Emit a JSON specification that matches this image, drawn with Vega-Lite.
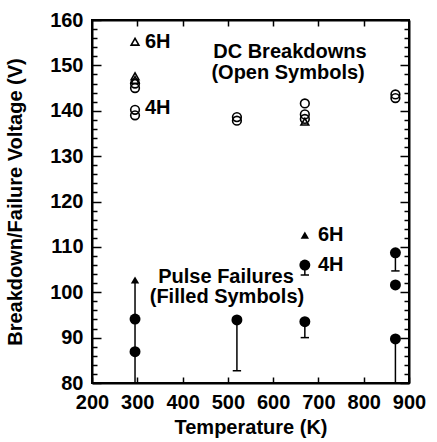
{
  "$schema": "https://vega.github.io/schema/vega-lite/v6.json",
  "width": 317,
  "height": 363,
  "autosize": {"type": "none"},
  "padding": {"left": 92, "top": 20, "right": 28, "bottom": 59},
  "background": "white",
  "config": {
    "view": {"stroke": "black", "strokeWidth": 2},
    "font": "Liberation Sans",
    "axis": {
      "domainColor": "black",
      "domainWidth": 2,
      "tickColor": "black",
      "tickWidth": 1.5,
      "grid": false,
      "labelFont": "Liberation Sans",
      "labelFontSize": 20,
      "labelFontWeight": "bold",
      "labelColor": "black",
      "titleFont": "Liberation Sans",
      "titleFontSize": 20,
      "titleFontWeight": "bold",
      "titleColor": "black",
      "labelFlush": false,
      "labelOverlap": false
    }
  },
  "datasets": {
    "points": [
      {"T": 295, "V": 155.2, "kind": "DC", "shape": "triangle"},
      {"T": 295, "V": 147.6, "kind": "DC", "shape": "triangle"},
      {"T": 295, "V": 146.8, "kind": "DC", "shape": "triangle"},
      {"T": 295, "V": 146.0, "kind": "DC", "shape": "circle"},
      {"T": 295, "V": 145.0, "kind": "DC", "shape": "circle"},
      {"T": 295, "V": 140.2, "kind": "DC", "shape": "circle"},
      {"T": 295, "V": 139.0, "kind": "DC", "shape": "circle"},
      {"T": 520, "V": 138.6, "kind": "DC", "shape": "circle"},
      {"T": 520, "V": 137.8, "kind": "DC", "shape": "circle"},
      {"T": 670, "V": 141.6, "kind": "DC", "shape": "circle"},
      {"T": 670, "V": 139.2, "kind": "DC", "shape": "circle"},
      {"T": 670, "V": 138.2, "kind": "DC", "shape": "circle"},
      {"T": 670, "V": 137.6, "kind": "DC", "shape": "triangle"},
      {"T": 870, "V": 143.6, "kind": "DC", "shape": "circle"},
      {"T": 870, "V": 142.8, "kind": "DC", "shape": "circle"},
      {"T": 295, "V": 102.7, "kind": "Pulse", "shape": "triangle"},
      {"T": 295, "V": 94.1, "kind": "Pulse", "shape": "circle"},
      {"T": 295, "V": 86.9, "kind": "Pulse", "shape": "circle"},
      {"T": 520, "V": 93.9, "kind": "Pulse", "shape": "circle"},
      {"T": 670, "V": 112.6, "kind": "Pulse", "shape": "triangle"},
      {"T": 670, "V": 106.0, "kind": "Pulse", "shape": "circle"},
      {"T": 670, "V": 93.5, "kind": "Pulse", "shape": "circle"},
      {"T": 870, "V": 108.7, "kind": "Pulse", "shape": "circle"},
      {"T": 870, "V": 101.6, "kind": "Pulse", "shape": "circle"},
      {"T": 870, "V": 89.7, "kind": "Pulse", "shape": "circle"}
    ],
    "bars": [
      {"T": 295, "lo": 80, "hi": 102.7, "cap": false},
      {"T": 520, "lo": 82.7, "hi": 93.9, "cap": true},
      {"T": 670, "lo": 103.8, "hi": 106.0, "cap": true},
      {"T": 670, "lo": 90.0, "hi": 93.5, "cap": true},
      {"T": 870, "lo": 104.7, "hi": 108.7, "cap": true},
      {"T": 870, "lo": 80, "hi": 89.7, "cap": false}
    ],
    "leftLabels": [
      {"T": 317, "V": 155.2, "text": "6H"},
      {"T": 317, "V": 140.6, "text": "4H"},
      {"T": 699, "V": 112.6, "text": "6H"},
      {"T": 699, "V": 106.0, "text": "4H"}
    ],
    "captions": [
      {"T": 637, "V": 153.0, "text": "DC Breakdowns"},
      {"T": 633, "V": 148.3, "text": "(Open Symbols)"},
      {"T": 496, "V": 103.4, "text": "Pulse Failures"},
      {"T": 498, "V": 99.0, "text": "(Filled Symbols)"}
    ]
  },
  "resolve": {"axis": {"x": "independent", "y": "independent"}},
  "layer": [
    {
      "data": {"name": "bars"},
      "mark": {"type": "rule", "color": "black", "strokeWidth": 1.5},
      "encoding": {
        "x": {"field": "T", "type": "quantitative", "scale": {"domain": [200, 900], "nice": false, "zero": false},
          "axis": {"orient": "bottom", "values": [200, 300, 400, 500, 600, 700, 800, 900], "tickSize": -6, "labelPadding": 15, "title": "Temperature (K)", "titlePadding": 5}},
        "y": {"field": "lo", "type": "quantitative", "scale": {"domain": [80, 160], "nice": false, "zero": false},
          "axis": {"orient": "left", "values": [80,82,84,86,88,90,92,94,96,98,100,102,104,106,108,110,112,114,116,118,120,122,124,126,128,130,132,134,136,138,140,142,144,146,148,150,152,154,156,158,160],
            "labelExpr": "datum.value % 10 === 0 ? datum.label : ''",
            "tickSize": {"condition": {"test": "datum.value % 10 === 0", "value": -9}, "value": -5},
            "labelPadding": 18, "title": "Breakdown/Failure Voltage (V)", "titlePadding": 24}},
        "y2": {"field": "hi"}
      }
    },
    {
      "data": {"name": "bars"},
      "transform": [{"filter": "datum.cap"}],
      "mark": {"type": "point", "shape": "stroke", "size": 70, "stroke": "black", "strokeWidth": 1.5, "opacity": 1},
      "encoding": {
        "x": {"field": "T", "type": "quantitative", "scale": {"domain": [200, 900], "nice": false, "zero": false},
          "axis": {"orient": "top", "values": [300, 400, 500, 600, 700, 800], "tickSize": -6, "labels": false, "title": null}},
        "y": {"field": "lo", "type": "quantitative", "scale": {"domain": [80, 160], "nice": false, "zero": false},
          "axis": {"orient": "right", "values": [80,82,84,86,88,90,92,94,96,98,100,102,104,106,108,110,112,114,116,118,120,122,124,126,128,130,132,134,136,138,140,142,144,146,148,150,152,154,156,158,160],
            "tickSize": {"condition": {"test": "datum.value % 10 === 0", "value": -9}, "value": -5},
            "labels": false, "title": null}}
      }
    },
    {
      "data": {"name": "points"},
      "transform": [{"filter": "datum.kind === 'DC' && datum.shape === 'circle'"}],
      "mark": {"type": "point", "shape": "circle", "size": 75, "filled": false, "fill": "white", "fillOpacity": 0, "stroke": "black", "strokeWidth": 1.6, "opacity": 1},
      "encoding": {
        "x": {"field": "T", "type": "quantitative", "axis": null},
        "y": {"field": "V", "type": "quantitative", "axis": null}
      }
    },
    {
      "data": {"name": "points"},
      "transform": [{"filter": "datum.kind === 'DC' && datum.shape === 'triangle'"}],
      "mark": {"type": "point", "shape": "triangle-up", "size": 60, "filled": false, "fillOpacity": 0, "stroke": "black", "strokeWidth": 1.6, "opacity": 1},
      "encoding": {
        "x": {"field": "T", "type": "quantitative", "axis": null},
        "y": {"field": "V", "type": "quantitative", "axis": null}
      }
    },
    {
      "data": {"name": "points"},
      "transform": [{"filter": "datum.kind === 'Pulse' && datum.shape === 'circle'"}],
      "mark": {"type": "point", "shape": "circle", "size": 120, "filled": true, "fill": "black", "opacity": 1},
      "encoding": {
        "x": {"field": "T", "type": "quantitative", "axis": null},
        "y": {"field": "V", "type": "quantitative", "axis": null}
      }
    },
    {
      "data": {"name": "points"},
      "transform": [{"filter": "datum.kind === 'Pulse' && datum.shape === 'triangle'"}],
      "mark": {"type": "point", "shape": "triangle-up", "size": 70, "filled": true, "fill": "black", "opacity": 1},
      "encoding": {
        "x": {"field": "T", "type": "quantitative", "axis": null},
        "y": {"field": "V", "type": "quantitative", "axis": null}
      }
    },
    {
      "data": {"name": "leftLabels"},
      "mark": {"type": "text", "align": "left", "baseline": "middle", "fontSize": 20, "fontWeight": "bold", "font": "Liberation Sans", "color": "black"},
      "encoding": {
        "x": {"field": "T", "type": "quantitative", "axis": null},
        "y": {"field": "V", "type": "quantitative", "axis": null},
        "text": {"field": "text"}
      }
    },
    {
      "data": {"name": "captions"},
      "mark": {"type": "text", "align": "center", "baseline": "middle", "fontSize": 20, "fontWeight": "bold", "font": "Liberation Sans", "color": "black"},
      "encoding": {
        "x": {"field": "T", "type": "quantitative", "axis": null},
        "y": {"field": "V", "type": "quantitative", "axis": null},
        "text": {"field": "text"}
      }
    }
  ]
}
